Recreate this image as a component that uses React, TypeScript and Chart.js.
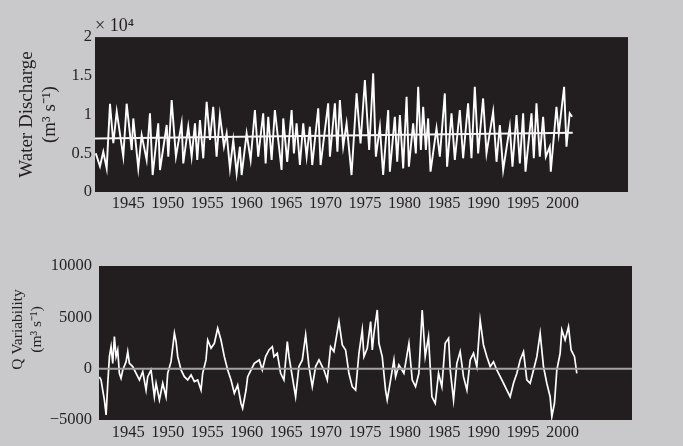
import React, { useEffect, useRef } from "react";
import { Chart, registerables } from "chart.js";

Chart.register(...registerables);

const FONT = "'Liberation Serif', 'Times New Roman', Times, serif";
const INK = "#231f20";
const PAGE = "#c9c9cb";
const PLOT = "#221e1f";

// ---- axes ----
const xTickYears = [1945, 1950, 1955, 1960, 1965, 1970, 1975, 1980, 1985, 1990, 1995, 2000];
const dischargeTicks = [0, 5000, 10000, 15000, 20000];
const variabilityTicks = [-5000, 0, 5000, 10000];

// ---- top panel: water discharge (m3/s) ----
const dischargeYears = [
  1940.9, 1941.43, 1941.85, 1942.28, 1942.7, 1943.12, 1943.55, 1944.38, 1944.81, 1945.45,
  1945.65, 1946.28, 1946.71, 1947.34, 1947.76, 1948.1, 1948.81, 1949.03, 1949.88, 1950.08,
  1950.51, 1951.05, 1951.77, 1951.98, 1952.61, 1953.04, 1953.46, 1953.75, 1954.09, 1954.51,
  1954.94, 1955.36, 1955.77, 1956.2, 1956.62, 1957.13, 1957.47, 1957.89, 1958.31, 1958.74,
  1959.15, 1959.37, 1960.0, 1960.51, 1961.05, 1961.47, 1962.1, 1962.41, 1962.74, 1963.17,
  1963.58, 1964.43, 1964.64, 1965.14, 1965.7, 1965.99, 1966.33, 1966.75, 1967.17, 1967.6,
  1968.01, 1968.31, 1969.07, 1969.37, 1970.33, 1970.55, 1971.18, 1971.5, 1971.81, 1972.23,
  1972.66, 1973.29, 1973.93, 1974.43, 1974.98, 1975.52, 1976.03, 1976.37, 1976.88, 1977.29,
  1977.93, 1978.14, 1978.77, 1979.07, 1979.41, 1979.83, 1980.26, 1980.55, 1981.09, 1981.43,
  1981.73, 1982.07, 1982.36, 1982.7, 1982.99, 1983.29, 1984.05, 1984.47, 1985.1, 1985.39,
  1985.95, 1986.37, 1987.0, 1987.42, 1988.05, 1988.48, 1988.9, 1989.32, 1989.95, 1990.38,
  1991.22, 1991.65, 1992.07, 1992.49, 1993.33, 1993.67, 1994.18, 1994.6, 1995.02, 1995.32,
  1996.08, 1996.37, 1996.71, 1997.13, 1997.55, 1997.89, 1998.4, 1998.52, 1999.24, 1999.53,
  2000.21, 2000.51, 2000.92, 2001.22,
];
const dischargeValues = [
  5000, 3300, 5200, 3050, 11400, 6300, 10400, 4560, 11400, 5420,
  9500, 3050, 7350, 4130, 10150, 2190, 8860, 2840, 8650, 4560,
  11870, 4560, 8860, 3700, 8430, 4560, 8860, 4130, 9290, 4350,
  11650, 6710, 11010, 4560, 9940, 5850, 7570, 3050, 6710, 2410,
  5850, 2190, 7570, 4130, 10580, 4560, 10150, 3700, 9720, 4130,
  10580, 2840, 9500, 3900, 10580, 4990, 8860, 3480, 8860, 4560,
  8430, 3480, 10800, 3480, 11440, 4560, 11440, 5200, 11870, 5850,
  8860, 2190, 12730, 6280, 14450, 5420, 15310, 4560, 8430, 2190,
  10580, 2620, 9720, 3900, 9940, 3050, 12300, 3270, 8860, 4990,
  13590, 5420, 11010, 5420, 9500, 2620, 8220, 4560, 12730, 3270,
  10150, 4130, 10580, 4350, 11440, 4350, 13590, 4990, 12080, 4990,
  10360, 3900, 8650, 2840, 8430, 3270, 9940, 3700, 10150, 2620,
  10150, 4350, 11440, 4560, 9720, 4560, 5850, 2620, 11010, 7570,
  13590, 5850, 10150, 9720,
];
const trendYears = [1940.8, 2001.3];
const trendValues = [6900, 7650];

// ---- bottom panel: Q variability (m3/s) ----
const variabilityYears = [
  1941.35, 1941.56, 1941.77, 1941.98, 1942.2, 1942.41, 1942.62, 1942.83, 1943.04, 1943.25,
  1943.46, 1943.67, 1943.88, 1944.09, 1944.31, 1944.73, 1944.94, 1945.15, 1945.57, 1946.0,
  1946.42, 1946.84, 1947.26, 1947.47, 1947.89, 1948.31, 1948.53, 1948.95, 1949.37, 1949.79,
  1950.0, 1950.42, 1950.85, 1951.06, 1951.27, 1951.69, 1952.11, 1952.53, 1952.96, 1953.38,
  1953.8, 1954.22, 1954.43, 1954.85, 1955.07, 1955.49, 1955.91, 1956.33, 1956.75, 1957.17,
  1957.6, 1958.02, 1958.44, 1958.86, 1959.28, 1959.49, 1959.92, 1960.13, 1960.55, 1960.97,
  1961.6, 1961.98, 1962.4, 1962.83, 1963.25, 1963.46, 1963.88, 1964.3, 1964.72, 1965.15,
  1965.36, 1965.78, 1966.2, 1966.62, 1967.05, 1967.47, 1967.89, 1968.31, 1968.73, 1969.16,
  1969.79, 1970.21, 1970.63, 1971.05, 1971.69, 1972.11, 1972.53, 1972.95, 1973.37, 1973.8,
  1974.22, 1974.64, 1974.85, 1975.27, 1975.7, 1975.91, 1976.12, 1976.54, 1976.75, 1977.17,
  1977.59, 1977.8, 1978.23, 1978.65, 1978.86, 1979.28, 1979.91, 1980.55, 1980.97, 1981.39,
  1981.81, 1982.23, 1982.61, 1983.03, 1983.46, 1983.88, 1984.3, 1984.72, 1985.14, 1985.57,
  1985.78, 1986.2, 1986.62, 1987.04, 1987.46, 1987.89, 1988.31, 1988.73, 1989.15, 1989.57,
  1989.99, 1990.42, 1990.84, 1991.26, 1991.68, 1992.11, 1992.53, 1992.95, 1993.37, 1993.79,
  1994.22, 1994.64, 1995.06, 1995.48, 1995.9, 1996.33, 1996.75, 1997.17, 1997.59, 1998.01,
  1998.43, 1998.65, 1998.98, 1999.28, 1999.7, 1999.91, 2000.33, 2000.76, 2001.09, 2001.52,
  2001.81,
];
const variabilityValues = [
  -800, -1100, -2080, -3050, -4510, -1420, 1170, 2140, 520, 3120,
  1170, 1820, -450, -940, -130, 680, 1660, 520, 200, -450,
  -1100, -290, -2080, -780, -130, -2730, -1420, -3050, -1420, -2730,
  -450, 680, 3450, 2630, 1170, -130, -780, -1100, -610, -1260,
  -1100, -2080, -450, 850, 2790, 1990, 2470, 3930, 2790, 1170,
  -130, -1100, -2400, -1590, -3370, -3860, -2080, -780, -130, 520,
  850, -130, 1170, 1820, 2140, 1170, 1500, -450, -1100, 2630,
  1170, -780, -2730, 200, 850, 3280, 200, -1750, 200, 850,
  -130, -1100, 2140, 1660, 4580, 2310, 1820, -450, -1750, -2080,
  1500, 3770, 1170, 1990, 4580, 1820, 3450, 5715, 2470, 1170,
  -2080, -3050, -1100, 850, -780, 360, -450, 2470, -1100, -1750,
  -450, 5715, 1170, 3120, -2730, -3370, -450, -1750, 2470, 2960,
  -130, -3050, 520, 1660, -780, -2080, 850, 1500, 200, 4740,
  2310, 1170, 200, 680, -130, -780, -1420, -2080, -2730, -1420,
  -450, 850, 1660, -1100, -1420, -130, 1170, 3450, 200, -1420,
  -2730, -4670, -3370, -130, 1500, 3770, 2790, 4090, 1820, 1170,
  -450,
];
const zeroYears = [1941.3, 2008.8];
const zeroValues = [0, 0];

function zip(xs: number[], ys: number[]) {
  const n = Math.min(xs.length, ys.length);
  const out: { x: number; y: number }[] = [];
  for (let i = 0; i < n; i++) out.push({ x: xs[i], y: ys[i] });
  return out;
}

const plotBg = {
  id: "plotBg",
  beforeDraw(chart: any) {
    const { ctx, chartArea: a } = chart;
    ctx.save();
    ctx.fillStyle = PLOT;
    ctx.fillRect(a.left, a.top, a.right - a.left, a.bottom - a.top);
    ctx.restore();
  },
};

const tickFont = { family: FONT, size: 16.5, weight: "normal" as const };

function xScale(min: number, max: number, height: number, pad: number) {
  return {
    type: "linear" as const,
    min,
    max,
    grid: { display: false, drawTicks: false },
    border: { display: false },
    afterBuildTicks: (s: any) => {
      s.ticks = xTickYears.map((v) => ({ value: v }));
    },
    afterFit: (s: any) => {
      s.height = height;
    },
    ticks: {
      autoSkip: false,
      maxRotation: 0,
      minRotation: 0,
      padding: pad,
      color: INK,
      font: tickFont,
      callback: (v: any) => String(v),
    },
  };
}

// leading spaces nudge the rotated title upward to sit where the original does
const LIFT = "\u00a0".repeat(7);

export default function App() {
  const topRef = useRef<HTMLCanvasElement>(null);
  const botRef = useRef<HTMLCanvasElement>(null);

  useEffect(() => {
    const top = new Chart(topRef.current as HTMLCanvasElement, {
      type: "line",
      data: {
        datasets: [
          {
            data: zip(trendYears, trendValues),
            borderColor: "#f4f4f4",
            borderWidth: 2,
            pointRadius: 0,
            tension: 0,
          },
          {
            data: zip(dischargeYears, dischargeValues),
            borderColor: "#ffffff",
            borderWidth: 1.9,
            pointRadius: 0,
            tension: 0,
          },
        ],
      },
      options: {
        responsive: false,
        animation: false,
        events: [],
        layout: { padding: { left: 0, right: 55, top: 0, bottom: 0 } },
        plugins: {
          legend: { display: false },
          tooltip: { enabled: false },
          title: {
            display: true,
            text: "× 10⁴",
            align: "start",
            fullSize: false,
            color: INK,
            font: { family: FONT, size: 18, weight: "normal" },
            padding: { top: 15, bottom: 0.5 },
          },
        },
        scales: {
          x: xScale(1940.8, 2008.3, 31, 2),
          y: {
            min: 0,
            max: 20000,
            grid: { display: false, drawTicks: false },
            border: { display: false },
            afterBuildTicks: (s: any) => {
              s.ticks = dischargeTicks.map((v) => ({ value: v }));
            },
            afterFit: (s: any) => {
              s.width = 95;
            },
            ticks: {
              padding: 3,
              color: INK,
              font: tickFont,
              callback: (v: any) => String(Number(v) / 10000),
            },
            title: {
              display: true,
              text: ["Water Discharge", "(m³ s⁻¹)"],
              color: INK,
              font: { family: FONT, size: 19, weight: "normal" },
              padding: { top: 16, bottom: 0 },
            },
          },
        },
      },
      plugins: [plotBg],
    } as any);

    const bot = new Chart(botRef.current as HTMLCanvasElement, {
      type: "line",
      data: {
        datasets: [
          {
            data: zip(zeroYears, zeroValues),
            borderColor: "#a3a3a3",
            borderWidth: 2,
            pointRadius: 0,
            tension: 0,
          },
          {
            data: zip(variabilityYears, variabilityValues),
            borderColor: "#ffffff",
            borderWidth: 1.7,
            pointRadius: 0,
            tension: 0,
          },
        ],
      },
      options: {
        responsive: false,
        animation: false,
        events: [],
        layout: { padding: { left: 0, right: 51, top: 43, bottom: 0 } },
        plugins: {
          legend: { display: false },
          tooltip: { enabled: false },
          title: { display: false },
        },
        scales: {
          x: xScale(1941.3, 2008.8, 26, 3),
          y: {
            min: -5000,
            max: 10000,
            grid: { display: false, drawTicks: false },
            border: { display: false },
            afterBuildTicks: (s: any) => {
              s.ticks = variabilityTicks.map((v) => ({ value: v }));
            },
            afterFit: (s: any) => {
              s.width = 99;
            },
            ticks: {
              padding: 7,
              color: INK,
              font: tickFont,
              callback: (v: any) => {
                const n = Number(v);
                return n < 0 ? "\u2212" + String(-n) : String(n);
              },
            },
            title: {
              display: true,
              text: [LIFT + "Q Variability", LIFT + "(m³ s⁻¹)"],
              color: INK,
              font: { family: FONT, size: 15.5, weight: "normal" },
              padding: { top: 9, bottom: 0 },
            },
          },
        },
      },
      plugins: [plotBg],
    } as any);

    return () => {
      top.destroy();
      bot.destroy();
    };
  }, []);

  return (
    <div
      style={{
        position: "fixed",
        left: 0,
        top: 0,
        width: 683,
        height: 446,
        background: PAGE,
        overflow: "hidden",
      }}
    >
      <canvas
        ref={topRef}
        width={683}
        height={223}
        style={{ position: "absolute", left: 0, top: 0, width: 683, height: 223 }}
      />
      <canvas
        ref={botRef}
        width={683}
        height={223}
        style={{ position: "absolute", left: 0, top: 223, width: 683, height: 223 }}
      />
    </div>
  );
}
